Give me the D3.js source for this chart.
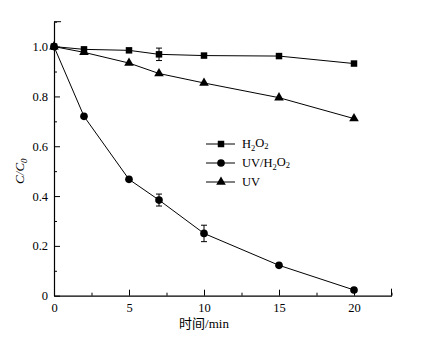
<!DOCTYPE html>
<html>
<head>
<meta charset="utf-8">
<script src="https://cdn.jsdelivr.net/npm/d3@7"></script>
<style>
body { margin: 0; background: #fff; }
</style>
</head>
<body>
<div id="chart"></div>
<script>
// data
var times = [0, 2, 5, 7, 10, 15, 20];
var h2o2 = [1.0, 0.989, 0.985, 0.969, 0.964, 0.962, 0.932];
var h2o2Err = [0, 0, 0, 0.025, 0, 0, 0];
var uvH2o2 = [1.0, 0.720, 0.467, 0.384, 0.250, 0.122, 0.023];
var uvH2o2Err = [0, 0, 0, 0.024, 0.033, 0, 0];
var uv = [1.0, 0.977, 0.934, 0.892, 0.854, 0.795, 0.711];
var uvErr = [0, 0, 0, 0, 0, 0, 0];

var xTicks = [0, 5, 10, 15, 20];
var xMinor = [2.5, 7.5, 12.5, 17.5, 22.5];
var yTicks = [0, 0.2, 0.4, 0.6, 0.8, 1.0];
var yMinor = [0.1, 0.3, 0.5, 0.7, 0.9, 1.1];
var yTickLabels = ["0", "0.2", "0.4", "0.6", "0.8", "1.0"];

var FONT = "'Liberation Serif', 'Times New Roman', 'DejaVu Serif', 'Noto Sans CJK SC', serif";

var W = 423, H = 343;
var margin = {top: 21.7, left: 54, right: 31.5, bottom: 47.3};

var x = d3.scaleLinear().domain([0, 22.5]).range([margin.left, W - margin.right]);
var y = d3.scaleLinear().domain([0, 1.1]).range([H - margin.bottom, margin.top]);

var svg = d3.select("#chart").append("svg")
    .attr("width", W)
    .attr("height", H)
    .attr("font-family", FONT);

// axes, ticks pointing inward
var gx = svg.append("g")
    .attr("transform", "translate(0," + y(0) + ")")
    .call(d3.axisBottom(x).tickValues(xTicks).tickSizeInner(-6).tickSizeOuter(0).tickPadding(7)
        .tickFormat(d3.format("d")));
svg.append("g")
    .attr("transform", "translate(0," + y(0) + ")")
    .call(d3.axisBottom(x).tickValues(xMinor).tickSizeInner(-3).tickSizeOuter(0).tickFormat(""))
    .call(function (g) { g.select(".domain").remove(); });
svg.selectAll(".xend").data([22.5]).enter().append("line")
    .attr("x1", function (d) { return x(d); }).attr("x2", function (d) { return x(d); })
    .attr("y1", y(0)).attr("y2", y(0) - 7)
    .attr("stroke", "#000");

var gy = svg.append("g")
    .attr("transform", "translate(" + x(0) + ",0)")
    .call(d3.axisLeft(y).tickValues(yTicks).tickSizeInner(-6).tickSizeOuter(0).tickPadding(12)
        .tickFormat(function (d, i) { return yTickLabels[i]; }));
svg.append("g")
    .attr("transform", "translate(" + x(0) + ",0)")
    .call(d3.axisLeft(y).tickValues(yMinor).tickSizeInner(-3).tickSizeOuter(0).tickFormat(""))
    .call(function (g) { g.select(".domain").remove(); });
svg.selectAll(".yend").data([1.1]).enter().append("line")
    .attr("x1", x(0)).attr("x2", x(0) + 7)
    .attr("y1", function (d) { return y(d); }).attr("y2", function (d) { return y(d); })
    .attr("stroke", "#000");

svg.selectAll("g").attr("font-family", FONT);
svg.selectAll(".domain").attr("stroke", "#000").attr("stroke-width", 1.2);
svg.selectAll(".tick text").style("font-size", "12.5px").style("font-family", FONT);
gy.selectAll(".tick text").attr("x", -6);

// axis titles
svg.append("text")
    .attr("x", x(10))
    .attr("y", 328)
    .style("text-anchor", "middle")
    .style("font-size", "13px")
    .text("时间/min");

var yl = svg.append("text")
    .attr("transform", "translate(24," + y(0.5) + ") rotate(-90)")
    .style("text-anchor", "middle")
    .style("font-size", "13px")
    .style("font-style", "italic");
yl.append("tspan").text("C/C");
yl.append("tspan").text("0").attr("dy", "0.3em").style("font-size", "9px");

// series
var series = [
    {name: "H2O2", vals: h2o2, err: h2o2Err, shape: d3.symbolSquare, size: 42},
    {name: "UV/H2O2", vals: uvH2o2, err: uvH2o2Err, shape: d3.symbolCircle, size: 46},
    {name: "UV", vals: uv, err: uvErr, shape: d3.symbolTriangle, size: 40}
];

var line = d3.line()
    .x(function (d) { return x(d.t); })
    .y(function (d) { return y(d.v); });

series.forEach(function (s) {
    var pts = times.map(function (t, i) { return {t: t, v: s.vals[i], e: s.err[i]}; });
    svg.append("path")
        .datum(pts)
        .attr("d", line)
        .attr("fill", "none")
        .attr("stroke", "#000")
        .attr("stroke-width", 1);

    var eb = pts.filter(function (d) { return d.e > 0; });
    var g = svg.append("g").selectAll("g").data(eb).enter().append("g");
    g.append("line")
        .attr("x1", function (d) { return x(d.t); }).attr("x2", function (d) { return x(d.t); })
        .attr("y1", function (d) { return y(d.v - d.e); }).attr("y2", function (d) { return y(d.v + d.e); })
        .attr("stroke", "#000");
    [-1, 1].forEach(function (sg) {
        g.append("line")
            .attr("x1", function (d) { return x(d.t) - 3; }).attr("x2", function (d) { return x(d.t) + 3; })
            .attr("y1", function (d) { return y(d.v + sg * d.e); }).attr("y2", function (d) { return y(d.v + sg * d.e); })
            .attr("stroke", "#000");
    });

    svg.append("g").selectAll("path").data(pts).enter().append("path")
        .attr("d", d3.symbol().type(s.shape).size(s.size))
        .attr("transform", function (d) { return "translate(" + x(d.t) + "," + y(d.v) + ")"; })
        .attr("fill", "#000");
});

// legend
var legendY = [144, 163, 182];
var leg = svg.append("g");
series.forEach(function (s, i) {
    var ly = legendY[i];
    leg.append("line").attr("x1", 206).attr("x2", 235).attr("y1", ly).attr("y2", ly)
        .attr("stroke", "#000");
    leg.append("path")
        .attr("d", d3.symbol().type(s.shape).size(s.size))
        .attr("transform", "translate(221," + ly + ")")
        .attr("fill", "#000");
    var t = leg.append("text").attr("x", 242).attr("y", ly + 4).style("font-size", "12.5px");
    if (s.name == "UV") {
        t.text("UV");
    } else {
        if (s.name == "UV/H2O2") t.append("tspan").text("UV/");
        t.append("tspan").text("H");
        t.append("tspan").text("2").attr("dy", "0.3em").style("font-size", "8.5px");
        t.append("tspan").text("O").attr("dy", "-0.3em");
        t.append("tspan").text("2").attr("dy", "0.3em").style("font-size", "8.5px");
    }
});
</script>
</body>
</html>
